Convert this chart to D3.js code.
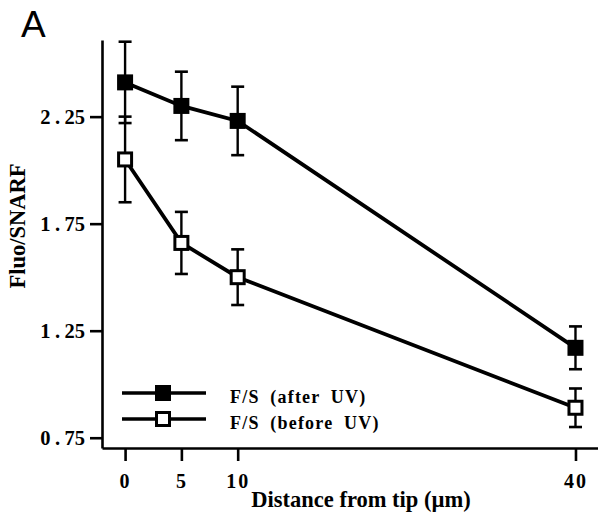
<!DOCTYPE html>
<html>
<head>
<meta charset="utf-8">
<script src="https://cdn.jsdelivr.net/npm/d3@7"></script>
<style>
  body { margin: 0; background: #fff; }
  svg { display: block; }
</style>
</head>
<body>
<svg></svg>
<script>
let distances = [0, 5, 10, 40] // distance from tip, um
let afterUV = [2.41, 2.30, 2.23, 1.17]
let afterErr = [0.19, 0.16, 0.16, 0.10]
let beforeUV = [2.05, 1.66, 1.50, 0.89]
let beforeErr = [0.20, 0.145, 0.13, 0.09]
let xTicks = [0, 5, 10, 40]
let yTicks = [0.75, 1.25, 1.75, 2.25]
let seriesNames = ["F/S (after UV)", "F/S (before UV)"]

let width = 598
let height = 520
let serif = "'Liberation Serif', 'Times New Roman', serif"

let svg = d3.select("svg")
            .attr("width", width)
            .attr("height", height)

let xScale = d3.scaleLinear()
               .domain([-2.05, 42.0])
               .range([102, 598])

let yScale = d3.scaleLinear()
               .domain([0.702, 2.608])
               .range([448, 40])

let series = [
    { name: seriesNames[0], values: afterUV, errs: afterErr, fill: "#000" },
    { name: seriesNames[1], values: beforeUV, errs: beforeErr, fill: "#fff" }
]

let drawAxes = () => {
    let xAxis = d3.axisBottom(xScale)
                  .tickValues(xTicks)
                  .tickSize(13)
                  .tickSizeOuter(0)
                  .tickPadding(13)
    let yAxis = d3.axisLeft(yScale)
                  .tickValues(yTicks)
                  .tickSize(12)
                  .tickSizeOuter(0)
                  .tickPadding(5)
                  .tickFormat(d3.format(".2f"))

    let gx = svg.append("g")
                .attr("id", "x-axis")
                .attr("transform", "translate(0," + yScale.range()[0] + ")")
                .call(xAxis)
    let gy = svg.append("g")
                .attr("id", "y-axis")
                .attr("transform", "translate(" + xScale.range()[0] + ",0)")
                .call(yAxis)

    svg.selectAll("#x-axis path, #y-axis path, #x-axis line, #y-axis line")
       .attr("stroke", "#000")
       .attr("stroke-width", 2.6)

    gx.selectAll("text")
      .attr("font-family", serif)
      .attr("font-weight", "bold")
      .attr("font-size", 20)
      .attr("letter-spacing", 2)
      .attr("fill", "#000")

    gy.selectAll("text")
      .attr("font-family", serif)
      .attr("font-weight", "bold")
      .attr("font-size", 20.5)
      .attr("fill", "#000")
      .each(function (d) {
          let parts = d3.format(".2f")(d).split(".")
          let t = d3.select(this).text(null)
          t.append("tspan").text(parts[0])
          t.append("tspan").attr("dx", 4.5).text(".")
          t.append("tspan").attr("dx", 4.5).text(parts[1])
      })

    svg.append("text")
       .attr("x", 361)
       .attr("y", 507)
       .attr("text-anchor", "middle")
       .attr("font-family", serif)
       .attr("font-weight", "bold")
       .attr("font-size", 22.5)
       .attr("fill", "#000")
       .text("Distance from tip (µm)")

    svg.append("text")
       .attr("transform", "translate(25,226) rotate(-90)")
       .attr("text-anchor", "middle")
       .attr("font-family", serif)
       .attr("font-weight", "bold")
       .attr("font-size", 22.5)
       .attr("fill", "#000")
       .text("Fluo/SNARF")

    svg.append("text")
       .attr("x", 21)
       .attr("y", 37)
       .attr("font-family", "'Liberation Sans', Arial, sans-serif")
       .attr("font-size", 37)
       .attr("fill", "#000")
       .text("A")
}

let drawSeries = () => {
    let line = d3.line()
                 .x((d, i) => xScale(distances[i]))
                 .y((d) => yScale(d))

    series.forEach((s) => {
        let g = svg.append("g").attr("class", "series")

        // error bars
        s.values.forEach((v, i) => {
            let x = xScale(distances[i])
            let top = yScale(v + s.errs[i])
            let bot = yScale(v - s.errs[i])
            g.append("line")
             .attr("x1", x).attr("x2", x)
             .attr("y1", top).attr("y2", bot)
             .attr("stroke", "#000").attr("stroke-width", 2.4)
            ;[top, bot].forEach((y) => {
                g.append("line")
                 .attr("x1", x - 6.5).attr("x2", x + 6.5)
                 .attr("y1", y).attr("y2", y)
                 .attr("stroke", "#000").attr("stroke-width", 2.6)
            })
        })

        g.append("path")
         .datum(s.values)
         .attr("d", line)
         .attr("fill", "none")
         .attr("stroke", "#000")
         .attr("stroke-width", 3.8)

        g.selectAll("rect")
         .data(s.values)
         .enter()
         .append("rect")
         .attr("x", (d, i) => xScale(distances[i]) - 6.5)
         .attr("y", (d) => yScale(d) - 6.5)
         .attr("width", 13)
         .attr("height", 13)
         .attr("fill", s.fill)
         .attr("stroke", "#000")
         .attr("stroke-width", 3)
    })
}

let drawLegend = () => {
    let legend = svg.append("g").attr("id", "legend")
    series.forEach((s, i) => {
        let y = 393 + i * 26
        legend.append("line")
              .attr("x1", 122).attr("x2", 206)
              .attr("y1", y).attr("y2", y)
              .attr("stroke", "#000").attr("stroke-width", 3.3)
        legend.append("rect")
              .attr("x", 163 - 6.5).attr("y", y - 6.5)
              .attr("width", 13).attr("height", 13)
              .attr("fill", s.fill)
              .attr("stroke", "#000").attr("stroke-width", 3)
        legend.append("text")
              .attr("x", 230)
              .attr("y", y + 10)
              .attr("font-family", serif)
              .attr("font-weight", "bold")
              .attr("font-size", 18)
              .attr("letter-spacing", 1.2)
              .attr("word-spacing", 5)
              .attr("fill", "#000")
              .text(s.name)
    })
}

drawSeries()
drawAxes()
drawLegend()
</script>
</body>
</html>
